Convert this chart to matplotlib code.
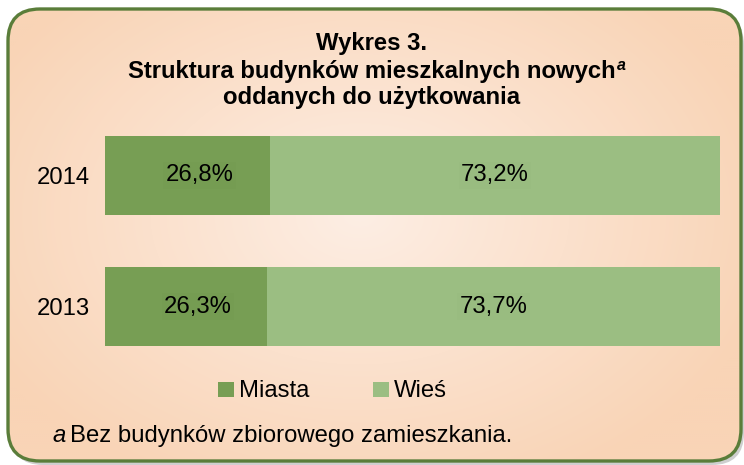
import numpy as np
import matplotlib
matplotlib.use("Agg")
import matplotlib.pyplot as plt
from matplotlib.patches import FancyBboxPatch, Rectangle

plt.rcParams['font.family'] = ['Liberation Sans', 'DejaVu Sans']

# data
years = ["2013", "2014"]
miasta = [26.3, 26.8]
wies = [73.7, 73.2]
series_names = ["Miasta", "Wieś"]
title_lines = ["Wykres 3.", "Struktura budynków mieszkalnych nowych", "oddanych do użytkowania"]
footnote = "Bez budynków zbiorowego zamieszkania."

c_miasta = "#779E54"
c_wies = "#9BBE82"
c_border = "#5A7D3A"
fs = 17.2

W, H = 744, 465
fig = plt.figure(figsize=(W / 100, H / 100), dpi=100)
fig.patch.set_facecolor("white")

# background layer in pixel coords (y down)
bg = fig.add_axes([0, 0, 1, 1])
bg.set_xlim(0, W)
bg.set_ylim(H, 0)
bg.axis("off")

x0, y0, x1, y1 = 8, 9, 741, 461
shadow = FancyBboxPatch((x0 + 3, y0 + 4), x1 - x0, y1 - y0,
                        boxstyle="round,pad=0,rounding_size=32",
                        fc="#a0a0a0", ec="none", alpha=0.5, zorder=1)
bg.add_patch(shadow)
box = FancyBboxPatch((x0, y0), x1 - x0, y1 - y0,
                     boxstyle="round,pad=0,rounding_size=32",
                     fc="none", ec=c_border, lw=2.4, zorder=4)
bg.add_patch(box)

# radial gradient fill (light centre, peach edges)
xx, yy = np.meshgrid(np.linspace(0, W, 372), np.linspace(0, H, 232))
r = np.sqrt(((xx - 360) / 420) ** 2 + ((yy - 215) / 300) ** 2)
r = np.clip(r, 0, 1)
c_in = np.array([253, 238, 228]) / 255
c_out = np.array([249, 212, 182]) / 255
img = c_in[None, None, :] * (1 - r[..., None]) + c_out[None, None, :] * r[..., None]
im = bg.imshow(img, extent=[0, W, H, 0], zorder=2, interpolation="bilinear")
clip = FancyBboxPatch((x0, y0), x1 - x0, y1 - y0,
                      boxstyle="round,pad=0,rounding_size=32",
                      fc="none", ec="none", transform=bg.transData)
im.set_clip_path(clip)
bg.set_xlim(0, W)
bg.set_ylim(H, 0)

# title
bg.text(372, 50, title_lines[0], ha="center", va="baseline",
        fontsize=fs, fontweight="bold", zorder=5)
t2 = bg.text(372, 78, title_lines[1], ha="center", va="baseline",
             fontsize=fs, fontweight="bold", zorder=5)
bg.text(372, 104, title_lines[2], ha="center", va="baseline",
        fontsize=fs, fontweight="bold", zorder=5)
fig.canvas.draw()
ext = t2.get_window_extent(fig.canvas.get_renderer())
bg.text(ext.x1 + 1, 70, "a", ha="left", va="baseline", fontsize=11.5,
        fontweight="bold", style="italic", zorder=5)

# bars
ax = fig.add_axes([105 / W, 93 / H, 615 / W, 262 / H])
ax.patch.set_alpha(0)
ypos = np.arange(len(years))
ax.barh(ypos, miasta, height=0.6, color=c_miasta, zorder=3)
ax.barh(ypos, wies, left=miasta, height=0.6, color=c_wies, zorder=3)
ax.set_xlim(0, 100)
ax.set_ylim(-0.5, 1.5)
ax.set_yticks(ypos)
ax.set_yticklabels(years, fontsize=fs)
ax.tick_params(axis="y", length=0, pad=11)
ax.set_xticks([])
for s in ax.spines.values():
    s.set_visible(False)

for i in range(len(years)):
    ax.text(miasta[i] / 2 + 2, ypos[i], f"{miasta[i]:.1f}%".replace(".", ","),
            ha="center", va="center", fontsize=fs, zorder=5,
            bbox=dict(boxstyle="square,pad=0.1", fc="#759C52", ec="none"))
    ax.text(miasta[i] + wies[i] / 2, ypos[i], f"{wies[i]:.1f}%".replace(".", ","),
            ha="center", va="center", fontsize=fs, zorder=5,
            bbox=dict(boxstyle="square,pad=0.1", fc="#99BC80", ec="none"))

# legend
for j, (name, col, lx) in enumerate(zip(series_names, [c_miasta, c_wies], [218, 373])):
    bg.add_patch(Rectangle((lx, 382), 15.5, 15.5, fc=col, ec="none", zorder=5))
    bg.text(lx + 21, 397, name, ha="left", va="baseline", fontsize=fs, zorder=5)

# footnote
fa = bg.text(52, 442, "a", ha="left", va="baseline", fontsize=fs,
             style="italic", zorder=5)
fig.canvas.draw()
e = fa.get_window_extent(fig.canvas.get_renderer())
bg.text(e.x1 + 5, 442, footnote, ha="left", va="baseline", fontsize=fs, zorder=5)

fig.savefig("out.png", dpi=100, facecolor="white")
